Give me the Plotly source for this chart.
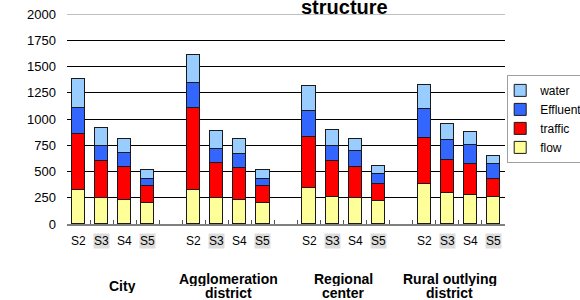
import plotly.graph_objects as go

# ---- data ----
groups = ["City", "Agglomeration district", "Regional center", "Rural outlying district"]
scenarios = ["S2", "S3", "S4", "S5"]

flow = [325, 248, 229, 201,
        325, 248, 229, 201,
        341, 261, 248, 220,
        382, 296, 280, 261]
traffic = [535, 351, 316, 162,
           780, 335, 306, 162,
           487, 341, 293, 162,
           440, 309, 293, 166]
effluent = [245, 143, 133, 67,
            239, 134, 134, 61,
            249, 140, 153, 99,
            277, 191, 182, 146]
water = [275, 172, 134, 86,
         266, 165, 137, 92,
         238, 150, 112, 67,
         223, 159, 121, 77]

series_names = ["flow", "traffic", "Effluent", "water"]
series_values = [flow, traffic, effluent, water]
colors = ["#FFFF99", "#FF0000", "#3366FF", "#99CCFF"]
highlighted = ["S3", "S5"]

# ---- positions on the numeric category axis (one empty slot between groups) ----
slot = len(scenarios) + 1
xpos = [g * slot + s for g in range(len(groups)) for s in range(len(scenarios))]
n_slots = len(groups) * slot - 1

fig = go.Figure()
for name, vals, col in zip(series_names, series_values, colors):
    fig.add_trace(go.Bar(
        x=xpos, y=vals, name=name, width=0.57,
        marker=dict(color=col, line=dict(color="#1a1a1a", width=1)),
    ))

font_family = "Arial, Liberation Sans, sans-serif"
annotations = []
# scenario labels
for xv, (g, s) in zip(xpos, [(g, s) for g in groups for s in scenarios]):
    annotations.append(dict(
        x=xv, y=0, xref="x", yref="paper", text=s, showarrow=False,
        yanchor="middle", yshift=-17, font=dict(size=12, color="#000", family=font_family),
        bgcolor="#DDDDDD" if s in highlighted else "rgba(0,0,0,0)", borderpad=0,
    ))
# group labels
xshifts = [9, 0, 0, -9]
for gi, g in enumerate(groups):
    center = gi * slot + (len(scenarios) - 1) / 2
    words = g.split(" ")
    if len(words) == 1:
        lines = [g]
        ys = [-62]
    else:
        lines = [" ".join(words[:-1]), words[-1]]
        ys = [-54.5, -68.5]
    for line, yy in zip(lines, ys):
        annotations.append(dict(
            x=center, y=0, xref="x", yref="paper", text="<b>" + line + "</b>",
            showarrow=False, yanchor="middle", yshift=yy, xshift=xshifts[gi],
            height=14, font=dict(size=14, color="#000", family=font_family),
        ))
# partially visible title (cut off at the top in the original)
annotations.append(dict(
    x=0.6336, y=1, xref="paper", yref="paper", text="<b>structure</b>",
    showarrow=False, yanchor="bottom", yshift=-6,
    font=dict(size=20, color="#000", family=font_family),
))

fig.update_layout(
    width=580, height=300,
    margin=dict(l=67, r=75, t=14, b=76, autoexpand=False),
    barmode="stack",
    paper_bgcolor="white", plot_bgcolor="white",
    font=dict(family=font_family, color="#000"),
    showlegend=True,
    legend=dict(
        traceorder="reversed", x=1.005, xanchor="left", y=0.71, yanchor="top",
        indentation=-8,
        bgcolor="white", bordercolor="#A0A0A0", borderwidth=1,
        font=dict(size=12, color="#000", family=font_family),
    ),
    xaxis=dict(
        range=[-0.5, n_slots - 0.5], tick0=-0.5, dtick=1, showticklabels=False,
        ticks="inside", ticklen=4, tickcolor="#555", showgrid=False,
        showline=True, linecolor="#808080", linewidth=2, zeroline=False,
    ),
    yaxis=dict(
        range=[0, 2000], dtick=250, showgrid=True, gridcolor="#000", gridwidth=1,
        zeroline=False, showline=False, ticks="", ticklabelstandoff=10,
        tickfont=dict(size=13, color="#000", family=font_family),
    ),
    shapes=[dict(type="line", xref="paper", yref="y", x0=0, x1=1, y0=2000, y1=2000,
                 line=dict(color="#C0C0C0", width=2))],
    annotations=annotations,
    bargap=0,
)

fig.write_html("out.html", config={"displayModeBar": False},
               post_script="document.body.style.margin='0';")
